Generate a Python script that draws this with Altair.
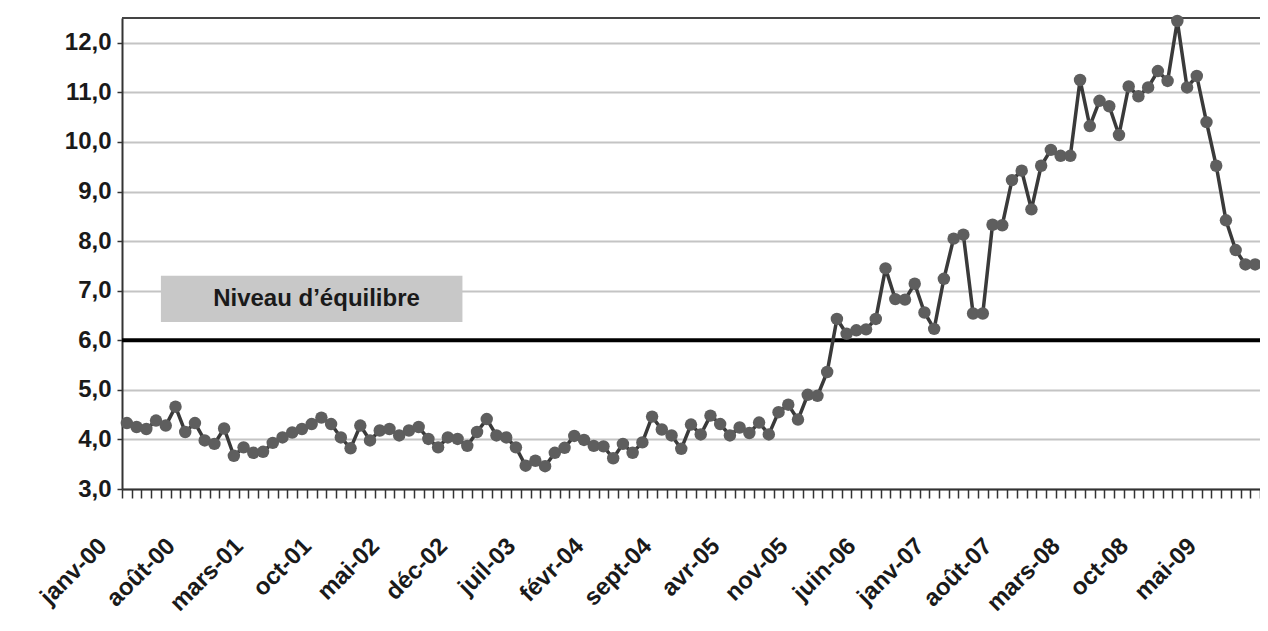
import json
import altair as alt
import pandas as pd

# ---------------- data ----------------
MONTHS_FR = ["janv", "févr", "mars", "avr", "mai", "juin",
             "juil", "août", "sept", "oct", "nov", "déc"]
YEARS = ["00", "01", "02", "03", "04", "05", "06", "07", "08", "09"]
N_MONTHS = 117
categories = [f"{m}-{y}" for y in YEARS for m in MONTHS_FR][:N_MONTHS]

values = [
    4.33, 4.25, 4.21, 4.38, 4.28, 4.66, 4.15, 4.33, 3.98, 3.91,
    4.22, 3.67, 3.84, 3.73, 3.75, 3.93, 4.04, 4.14, 4.21, 4.31,
    4.44, 4.31, 4.04, 3.82, 4.28, 3.98, 4.18, 4.21, 4.08, 4.18,
    4.25, 4.01, 3.84, 4.04, 4.01, 3.87, 4.15, 4.41, 4.08, 4.04,
    3.84, 3.47, 3.57, 3.46, 3.73, 3.83, 4.07, 3.99, 3.87, 3.86,
    3.62, 3.91, 3.73, 3.94, 4.46, 4.20, 4.08, 3.81, 4.30, 4.10,
    4.48, 4.31, 4.08, 4.24, 4.13, 4.34, 4.10, 4.55, 4.70, 4.40,
    4.90, 4.88, 5.36, 6.43, 6.13, 6.20, 6.22, 6.43, 7.45, 6.83,
    6.82, 7.14, 6.56, 6.23, 7.24, 8.05, 8.13, 6.54, 6.54, 8.33,
    8.32, 9.23, 9.42, 8.64, 9.52, 9.84, 9.72, 9.72, 11.25, 10.32,
    10.83, 10.72, 10.14, 11.12, 10.92, 11.10, 11.43, 11.23, 12.44, 11.10,
    11.33, 10.40, 9.52, 8.42, 7.82, 7.53, 7.53,
]

shown_labels = categories[::7]
y_ticks = [3, 4, 5, 6, 7, 8, 9, 10, 11, 12]
y_domain = [3.0, 12.5]
equilibrium = [6.0]
top_border = [12.5]

annotation_text = ["Niveau d\u2019équilibre"]
annotation_x_start = ["mai-00"]
annotation_x_end = ["nov-02"]
annotation_y_low = [6.37]
annotation_y_high = [7.30]
annotation_y_text = [6.84]
annotation_x_text = ["août-01"]

# ---------------- frames ----------------
df = pd.DataFrame({"mois": categories, "valeur": values})
df_eq = pd.DataFrame({"y": equilibrium})
df_top = pd.DataFrame({"y": top_border})
df_ann = pd.DataFrame({
    "x0": annotation_x_start, "x1": annotation_x_end,
    "y0": annotation_y_low, "y1": annotation_y_high,
    "yt": annotation_y_text, "xt": annotation_x_text,
    "txt": annotation_text,
})

FONT = "Liberation Sans"
xscale = alt.Scale(type="band", domain=categories, paddingInner=0, paddingOuter=0)
yscale = alt.Scale(domain=y_domain, nice=False, zero=False)

shown_js = json.dumps(shown_labels, ensure_ascii=False)

x_axis = alt.Axis(
    title=None,
    labelExpr=f"indexof({shown_js}, datum.value) >= 0 ? datum.value : ''",
    labelAngle=315,
    labelAlign="right",
    labelBaseline="middle",
    labelFont=FONT,
    labelFontWeight="bold",
    labelFontSize=24,
    labelColor="#1a1a1a",
    labelPadding=44,
    labelOffset=-24,
    labelOverlap=False,
    labelBound=False,
    labelFlush=False,
    tickBand="extent",
    tickSize=9,
    tickWidth=1.5,
    tickColor="#333333",
    domainColor="#333333",
    domainWidth=2,
    grid=False,
)

y_axis = alt.Axis(
    title=None,
    values=y_ticks,
    labelExpr="replace(format(datum.value, '.1f'), '.', ',')",
    labelFont=FONT,
    labelFontWeight="bold",
    labelFontSize=24,
    labelColor="#1a1a1a",
    labelPadding=6,
    tickSize=5,
    tickWidth=1.5,
    tickColor="#333333",
    domainColor="#333333",
    domainWidth=2,
    grid=True,
    gridColor="#c4c4c4",
    gridWidth=2,
)

base = alt.Chart(df)

line = base.mark_line(color="#3a3a3a", strokeWidth=3.5).encode(
    x=alt.X("mois:N", scale=xscale, axis=x_axis, sort=categories),
    y=alt.Y("valeur:Q", scale=yscale, axis=y_axis),
)
pts = base.mark_circle(color="#5e5e5e", opacity=1, size=155).encode(
    x=alt.X("mois:N", scale=xscale, sort=categories),
    y=alt.Y("valeur:Q", scale=yscale),
)

eq_rule = alt.Chart(df_eq).mark_rule(color="#000000", strokeWidth=4).encode(
    y=alt.Y("y:Q", scale=yscale)
)
top_rule = alt.Chart(df_top).mark_rule(color="#444444", strokeWidth=2).encode(
    y=alt.Y("y:Q", scale=yscale)
)

ann_box = alt.Chart(df_ann).mark_rect(color="#c8c8c8").encode(
    x=alt.X("x0:N", scale=xscale, bandPosition=0),
    x2=alt.X2("x1", bandPosition=1),
    y=alt.Y("y0:Q", scale=yscale),
    y2="y1",
)
ann_text = alt.Chart(df_ann).mark_text(
    font=FONT, fontWeight="bold", fontSize=24, color="#1a1a1a", align="center", baseline="middle"
).encode(
    x=alt.X("xt:N", scale=xscale, bandPosition=1),
    y=alt.Y("yt:Q", scale=yscale),
    text="txt:N",
)

chart = alt.layer(ann_box, eq_rule, top_rule, line, pts, ann_text).properties(
    width=1138,
    height=471,
    autosize=alt.AutoSizeParams(type="none"),
    padding={"left": 114, "top": 10, "right": 0, "bottom": 133},
    background="white",
).configure_view(stroke=None)

chart.save("out.html", embed_options={"renderer": "svg", "actions": False})
